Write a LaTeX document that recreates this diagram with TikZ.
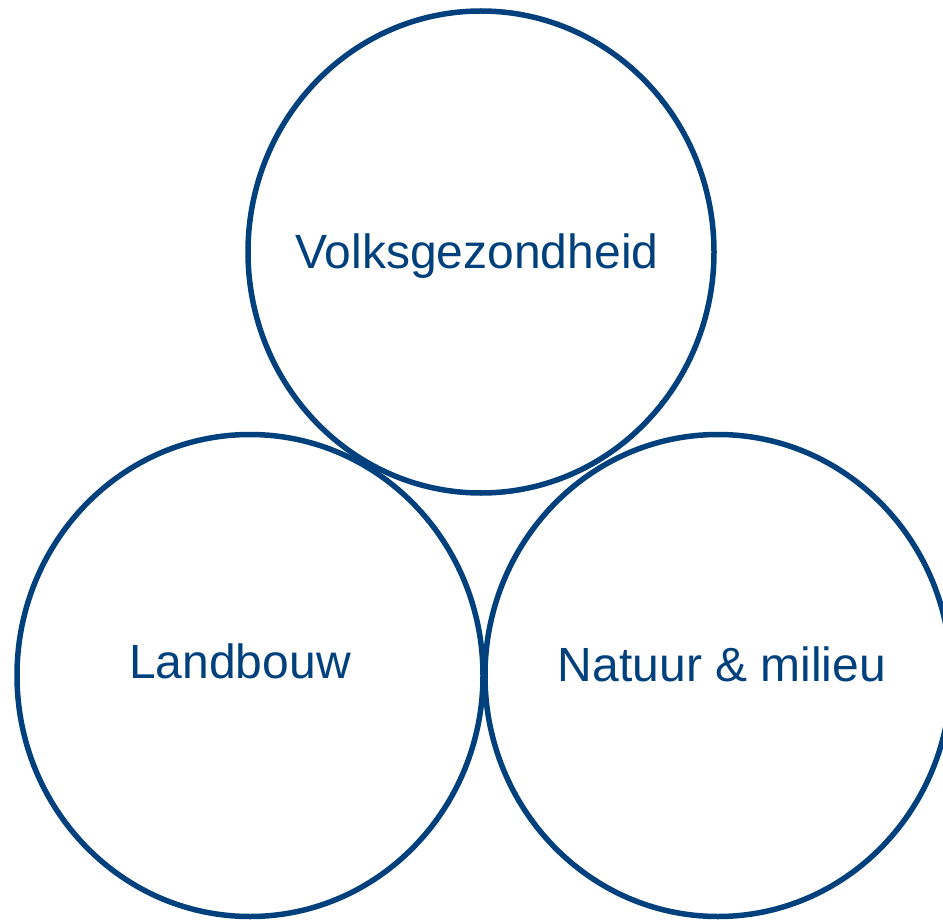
\documentclass[tikz,border=0pt]{standalone}
\usepackage{fontspec}
\setmainfont{Liberation Sans}
\usetikzlibrary{shapes.geometric}
\definecolor{rijksblauw}{RGB}{0,65,125}
\begin{document}
\begin{tikzpicture}[
    x=1pt, y=1pt,
    every node/.style={
    font=\fontsize{48}{52}\selectfont, text=rijksblauw},
    domein/.style={ellipse, draw=rijksblauw, line width=5.5pt,
    minimum width=466pt, minimum height=482pt, inner sep=0pt},
    naam/.style={anchor=base, inner sep=0pt}]
    \useasboundingbox (0,0) rectangle (943,-920);

    \node[domein] (volk) at (481,-252) {};
    \node[domein] (land) at (250,-675.5) {};
    \node[domein] (natuur) at (718,-675.5) {};

    \node[naam] (volktxt) at ([shift={(-4,-17)}]volk.center) {Volksgezondheid};
    \node[naam] (landtxt) at ([shift={(-10,-3)}]land.center) {Landbouw};
    \node[naam] (natuurtxt) at ([shift={(4,-6)}]natuur.center) {Natuur \& milieu};
\end{tikzpicture}
\end{document}
